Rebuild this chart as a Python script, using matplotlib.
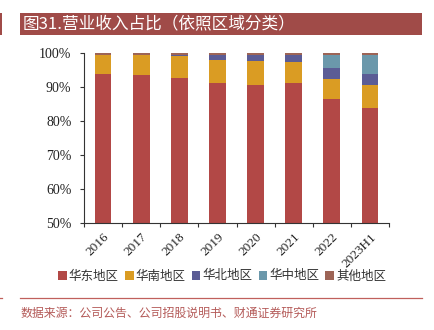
import matplotlib
matplotlib.use("Agg")
import matplotlib.pyplot as plt
import numpy as np
from matplotlib.patches import Rectangle
from matplotlib.lines import Line2D

plt.rcParams['font.family'] = ['Noto Sans CJK SC', 'DejaVu Sans']

categories = ['2016', '2017', '2018', '2019', '2020', '2021', '2022', '2023H1']
east = [93.8, 93.5, 92.6, 91.1, 90.6, 91.1, 86.5, 83.7]
south = [5.6, 5.8, 6.3, 6.8, 7.1, 6.1, 5.9, 6.8]
north = [0.0, 0.0, 0.4, 1.4, 1.5, 2.2, 3.0, 3.2]
central = [0.0, 0.0, 0.0, 0.0, 0.0, 0.0, 3.8, 5.5]
other = [0.6, 0.7, 0.7, 0.7, 0.8, 0.6, 0.8, 0.8]
series_names = ['华东地区', '华南地区', '华北地区', '华中地区', '其他地区']
colors = ['#B24846', '#DA9C23', '#5B5C95', '#6B98AB', '#9D6456']
yticks = [50, 60, 70, 80, 90, 100]

W, H = 435, 330
fig = plt.figure(figsize=(W / 100, H / 100), dpi=100)

# title bar
fig.patches.append(Rectangle((20 / W, 1 - 34.5 / H), 402 / W, 22 / H,
                             transform=fig.transFigure, facecolor='#A04B48',
                             edgecolor='none'))
fig.patches.append(Rectangle((0, 1 - 34.5 / H), 2 / W, 22 / H,
                             transform=fig.transFigure, facecolor='#A04B48',
                             edgecolor='none'))
fig.text(22.5 / W, 1 - 23.5 / H, '图31.营业收入占比（依照区域分类）', color='white',
         fontsize=12, va='center', ha='left')

ax = fig.add_axes([84 / W, 1 - 222.7 / H, 305 / W, 170 / H])
x = np.arange(len(categories))
data = [east, south, north, central, other]
bottom = np.zeros(len(categories))
for vals, c, name in zip(data, colors, series_names):
    v = np.array(vals)
    ax.bar(x, v, bottom=bottom, width=0.44, color=c, label=name, linewidth=0)
    bottom += v

ax.set_ylim(50, 100)
ax.set_xlim(-0.5, len(categories) - 0.5)
ax.set_yticks(yticks)
ax.set_yticklabels([f'{t}%' for t in yticks], family='Liberation Serif',
                   fontsize=10, color='#222222')
ax.set_xticks(x)
ax.set_xticklabels(categories, rotation=45, ha='right', rotation_mode='anchor',
                   family='Liberation Serif', fontsize=9.5, color='#222222')
ax.set_xticks(np.arange(len(categories) + 1) - 0.5, minor=True)
ax.tick_params(axis='x', which='major', length=0, pad=6)
ax.tick_params(axis='x', which='minor', length=3, width=0.8, color='#333333')
ax.tick_params(axis='y', length=3, width=0.8, color='#333333', pad=6)
for s in ['top', 'right']:
    ax.spines[s].set_visible(False)
for s in ['left', 'bottom']:
    ax.spines[s].set_color('#333333')
    ax.spines[s].set_linewidth(0.8)

handles = [Rectangle((0, 0), 1, 1, facecolor=c, edgecolor='none') for c in colors]
fig.legend(handles, series_names, loc='center', bbox_to_anchor=(222 / W, 1 - 276 / H),
           ncol=5, frameon=False, fontsize=9, handlelength=0.7, handleheight=0.7,
           handletextpad=0.15, columnspacing=0.5, labelcolor='#333333')

fig.add_artist(Line2D([20 / W, 422 / W], [1 - 298.3 / H, 1 - 298.3 / H],
                      transform=fig.transFigure, color='#C0605C', linewidth=0.9))
fig.add_artist(Line2D([0, 2 / W], [1 - 298.3 / H, 1 - 298.3 / H],
                      transform=fig.transFigure, color='#C0605C', linewidth=0.9))
fig.text(21 / W, 1 - 313 / H, '数据来源：公司公告、公司招股说明书、财通证券研究所',
         color='#B45A58', fontsize=8.6, va='center', ha='left')

fig.savefig('out.png', dpi=100)
